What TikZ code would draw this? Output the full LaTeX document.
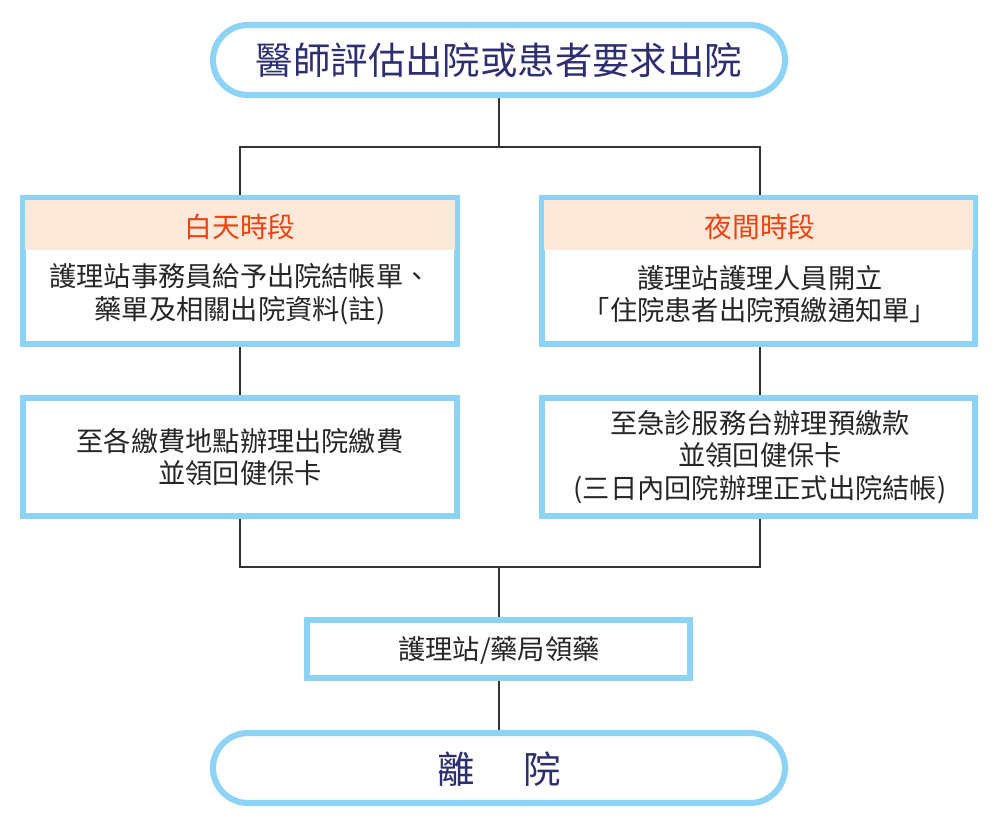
\documentclass[tikz,border=0pt]{standalone}
\usepackage{fontspec}
\setmainfont{Noto Sans CJK TC}
\definecolor{bl}{HTML}{8DD3F5}
\definecolor{navy}{HTML}{2E2F72}
\definecolor{peach}{HTML}{FDE9DA}
\definecolor{orng}{HTML}{F0420F}
\begin{document}
\begin{tikzpicture}[x=0.02cm,y=-0.02cm,
 box/.style={draw=bl,line width=3.5pt,fill=white},
 rbox/.style={draw=bl,line width=3.5pt,rounded corners=0.7cm,fill=white},
 ln/.style={draw=black!80,line width=0.8pt},
 txt/.style={text=black!85,font=\fontsize{15.5}{18.6}\selectfont,align=center},
 ttl/.style={text=navy,font=\fontsize{21.3}{24}\selectfont}]
\useasboundingbox (0,0) rectangle (1000,824);
% connectors
\coordinate (j1) at (499,147); \coordinate (jl) at (240,147); \coordinate (jr) at (760,147);
\coordinate (k1) at (499,567); \coordinate (kl) at (240,567); \coordinate (kr) at (760,567);
\draw[ln] (499,95) -- (j1) -- (jl) -- (240,198);
\draw[ln] (j1) -- (jr) -- (760,198);
\draw[ln] (240,344) -- (240,398);
\draw[ln] (760,344) -- (760,398);
\draw[ln] (240,516) -- (kl) -- (kr) -- (760,516);
\draw[ln] (k1) -- (499,620);
\draw[ln] (499,678) -- (499,733);
% boxes
\draw[rbox] (213,25) rectangle (785,95);
\node[ttl] (top) at (499,60) {醫師評估出院或患者要求出院};
\draw[box] (23,198) rectangle (457,344);
\fill[peach] (25,200) rectangle (455,250);
\node[text=orng,font=\fontsize{15.8}{18}\selectfont] (lh) at (240,227) {白天時段};
\node[txt] (lt) at (240,294) {護理站事務員給予出院結帳單、\\藥單及相關出院資料(註)};
\draw[box] (542,198) rectangle (975,344);
\fill[peach] (544,200) rectangle (973,250);
\node[text=orng,font=\fontsize{15.8}{18}\selectfont] (rh) at (760,227) {夜間時段};
\node[txt] (rt) at (760,294) {護理站護理人員開立\\「住院患者出院預繳通知單」};
\draw[box] (23,398) rectangle (457,516);
\node[txt] (l2) at (240,457) {至各繳費地點辦理出院繳費\\並領回健保卡};
\draw[box] (542,398) rectangle (975,516);
\node[txt] (r2) at (760,457) {至急診服務台辦理預繳款\\並領回健保卡\\(三日內回院辦理正式出院結帳)};
\draw[box] (307,620) rectangle (690,678);
\node[txt] (ph) at (499,650) {護理站/藥局領藥};
\draw[rbox] (213,733) rectangle (785,803);
\node[ttl] (end) at (499,769) {離\hspace{1.3em}院};
\end{tikzpicture}
\end{document}
